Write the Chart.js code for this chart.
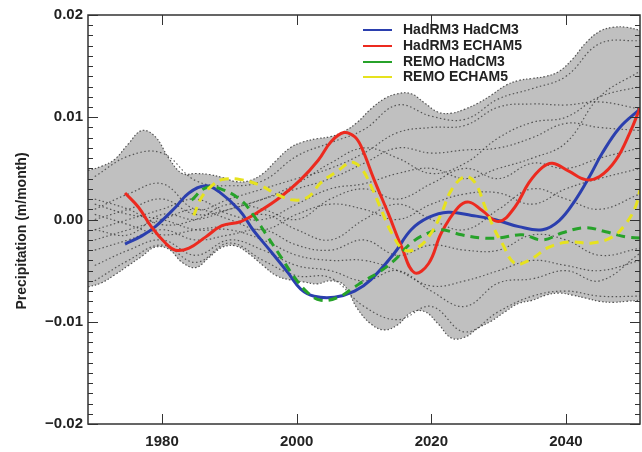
<!DOCTYPE html>
<html>
<head>
<meta charset="utf-8">
<script src="https://cdn.jsdelivr.net/npm/chart.js@4.4.1/dist/chart.umd.min.js"></script>
<style>
  html, body { margin: 0; padding: 0; background: #fff; }
  #wrap { width: 642px; height: 452px; }
</style>
</head>
<body>
<div id="wrap"><canvas id="chart" width="642" height="452"></canvas></div>
<script>
// values, precipitation change in m/month
const seriesNames = ['HadRM3 HadCM3', 'HadRM3 ECHAM5', 'REMO HadCM3', 'REMO ECHAM5'];
const seriesColors = ['#2b3fae', '#ec2a1f', '#27a22a', '#e6e21e'];

const xTicks = [1980, 2000, 2020, 2040];
const yTicks = [-0.02, -0.01, 0, 0.01, 0.02];

const blueYears = [1974.5, 1977, 1979, 1982, 1984, 1986.5, 1988.5, 1991.5, 1993.5, 1996, 1998.7, 2000.6, 2002.6, 2005.6, 2008.6, 2011, 2014.5, 2017, 2019.6, 2022.5, 2026, 2029.4, 2033, 2036.5, 2039, 2041.4, 2043.5, 2045.4, 2048, 2051];
const hadrm3Hadcm3 = [-0.0024, -0.0016, -0.0007, 0.0012, 0.0026, 0.0033, 0.0027, 0.0009, -0.001, -0.003, -0.0052, -0.0068, -0.0075, -0.0076, -0.007, -0.0059, -0.0033, -0.001, 0.0002, 0.0007, 0.0004, 0, -0.0007, -0.001, -0.0001, 0.0019, 0.0042, 0.0065, 0.009, 0.0108];

const redYears = [1974.5, 1976.5, 1978.4, 1980.5, 1982, 1984, 1986.5, 1988.9, 1991.7, 1994.7, 1997.6, 2000.6, 2003.2, 2005.1, 2007, 2008.6, 2009.6, 2011.5, 2013.6, 2015.6, 2017.5, 2019.6, 2021.5, 2024, 2025.6, 2027.5, 2030, 2032.4, 2034.5, 2036.5, 2038, 2040.5, 2042.9, 2045, 2047.4, 2049.5, 2051];
const hadrm3Echam5 = [0.0026, 0.0012, -0.0007, -0.0023, -0.003, -0.0028, -0.0017, -0.0006, -0.0002, 0.0009, 0.0022, 0.0039, 0.0058, 0.0076, 0.0085, 0.0081, 0.0071, 0.0039, 0.0006, -0.0027, -0.0052, -0.0043, -0.0013, 0.0012, 0.0017, 0.0009, -0.0002, 0.0012, 0.0036, 0.0051, 0.0055, 0.0047, 0.0039, 0.0042, 0.0058, 0.0085, 0.0109];

const greenYears = [1984.4, 1986.5, 1988.7, 1991.7, 1993.6, 1995.7, 1997.6, 1999.6, 2001.7, 2003.6, 2006.2, 2008.6, 2010, 2012.1, 2014.5, 2017, 2019.6, 2021.5, 2024.5, 2027.5, 2030, 2033.5, 2036.5, 2039.5, 2042.9, 2045.9, 2048.9, 2051];
const remoHadcm3 = [0.0019, 0.0031, 0.003, 0.0019, 0.0004, -0.0017, -0.0036, -0.0056, -0.0072, -0.0079, -0.0076, -0.0066, -0.006, -0.0052, -0.004, -0.0023, -0.0013, -0.001, -0.0015, -0.0018, -0.0018, -0.0015, -0.002, -0.0013, -0.0008, -0.0012, -0.0017, -0.0018];

const yellowYears = [1984.7, 1985.9, 1987.4, 1988.9, 1991.7, 1994.7, 1997.2, 1999.6, 2001.7, 2003.6, 2006.2, 2008.1, 2009.6, 2011.1, 2012.6, 2014.1, 2016, 2018.1, 2020, 2021.5, 2023, 2025, 2026.5, 2028, 2029.4, 2030.5, 2032.4, 2034.5, 2037.5, 2040.5, 2043.9, 2046.9, 2048.9, 2050.3, 2051];
const remoEcham5 = [0.0004, 0.0022, 0.0033, 0.0039, 0.0039, 0.0033, 0.0024, 0.0019, 0.0022, 0.0036, 0.0048, 0.0056, 0.005, 0.0032, 0.0009, -0.0013, -0.003, -0.0027, -0.0013, 0.0006, 0.0029, 0.0042, 0.0036, 0.0012, -0.001, -0.0023, -0.0043, -0.004, -0.0027, -0.0022, -0.0023, -0.0017, -0.0004, 0.0012, 0.0029];

// grey ensemble envelope
const envYears = [1969, 1971, 1973, 1975, 1977, 1979, 1981, 1983, 1985, 1987, 1989, 1991, 1993, 1995, 1997, 1999, 2001, 2003, 2005, 2007, 2009, 2011, 2013, 2015, 2017, 2019, 2021, 2023, 2025, 2027, 2029, 2031, 2033, 2035, 2037, 2039, 2041, 2043, 2045, 2047, 2049, 2051];
const envUpper = [0.0048, 0.0052, 0.0059, 0.0074, 0.0087, 0.0081, 0.006, 0.0045, 0.0045, 0.0044, 0.0041, 0.0037, 0.0038, 0.0045, 0.0058, 0.007, 0.0076, 0.0079, 0.0081, 0.0086, 0.0095, 0.0108, 0.0118, 0.0123, 0.0123, 0.0114, 0.0105, 0.0104, 0.0108, 0.0114, 0.0122, 0.0131, 0.0136, 0.0138, 0.014, 0.0145, 0.0157, 0.0173, 0.0184, 0.0188, 0.0188, 0.0185];
const envLower = [-0.0066, -0.0062, -0.0054, -0.0045, -0.0036, -0.0027, -0.0029, -0.0042, -0.0047, -0.0037, -0.0027, -0.0026, -0.0034, -0.0045, -0.0055, -0.0059, -0.0061, -0.0063, -0.006, -0.0064, -0.0087, -0.0102, -0.0108, -0.0103, -0.0091, -0.009, -0.0102, -0.0116, -0.0115, -0.0106, -0.0099, -0.009, -0.0082, -0.0079, -0.0074, -0.0072, -0.0074, -0.0077, -0.008, -0.0081, -0.008, -0.0079];

// dotted ensemble members
const memberYears = [1970, 1975, 1980, 1985, 1990, 1995, 2000, 2005, 2010, 2015, 2020, 2025, 2030, 2035, 2040, 2045, 2051];
const members = [
  [0.0042, 0.0062, 0.0065, 0.0038, 0.0033, 0.0038, 0.0062, 0.0075, 0.0088, 0.0112, 0.0101, 0.0098, 0.0118, 0.0128, 0.014, 0.0172, 0.0175],
  [0.001, 0.0025, 0.0035, 0.001, 0.002, 0.003, 0.004, 0.005, 0.0065, 0.0085, 0.009, 0.0092, 0.011, 0.0113, 0.0112, 0.0115, 0.0108],
  [0, 0.001, 0.002, 0.0005, 0.001, 0.002, 0.003, 0.004, 0.0055, 0.007, 0.0065, 0.0068, 0.007, 0.008, 0.0094, 0.009, 0.0087],
  [-0.001, 0, 0.001, 0.002, 0.0005, 0, 0.0015, 0.003, 0.0035, 0.0045, 0.005, 0.004, 0.005, 0.006, 0.0075, 0.012, 0.0145],
  [0.002, 0.001, -0.0005, 0, 0.0015, 0.001, 0, 0.002, 0.003, 0.002, 0.0035, 0.005, 0.004, 0.0055, 0.005, 0.006, 0.007],
  [-0.002, -0.001, 0, 0.001, 0, -0.001, 0.0005, 0.0015, 0.001, 0, 0.0015, 0.0025, 0.0026, 0.0015, 0.003, 0.004, 0.005],
  [0.0005, -0.0005, -0.0015, -0.001, -0.0005, 0.0005, -0.001, -0.002, 0, 0.0015, 0, -0.001, 0.001, 0.003, 0.002, 0.001, 0.0025],
  [-0.003, -0.002, -0.001, -0.002, -0.0015, -0.001, -0.0025, -0.003, -0.002, -0.0035, -0.0025, -0.003, -0.003, -0.0015, -0.002, -0.0035, -0.0028],
  [-0.0045, -0.003, -0.002, -0.0035, -0.002, -0.003, -0.0045, -0.005, -0.006, -0.005, -0.007, -0.0085, -0.0062, -0.0058, -0.005, -0.006, -0.0033],
  [-0.006, -0.004, -0.0025, -0.0042, -0.0023, -0.004, -0.0055, -0.0057, -0.0085, -0.0098, -0.0085, -0.011, -0.009, -0.0075, -0.007, -0.0075, -0.0075],
  [0.0015, 0.0005, 0, -0.001, -0.001, -0.002, -0.0035, -0.004, -0.004, -0.005, -0.0065, -0.006, -0.005, -0.004, -0.0045, -0.005, -0.004],
  [-0.001, -0.0015, 0.0005, 0, 0.001, 0.002, 0.0035, 0.0055, 0.007, 0.006, 0.0045, 0.0055, 0.008, 0.0095, 0.01, 0.012, 0.013]
];

const FONT = '"Liberation Sans", Arial, Helvetica, sans-serif';
const yMinorStep = 0.001;

function pts(xs, ys) {
  return xs.map((x, i) => ({ x: x, y: ys[i] }));
}

const datasets = [];
datasets.push({
  label: 'envUpper', data: pts(envYears, envUpper), fill: '+1',
  backgroundColor: '#c0c0c0', borderColor: 'rgba(60,60,60,0.85)', borderWidth: 1.2,
  borderDash: [1.5, 2], pointRadius: 0, tension: 0.4, order: 30
});
datasets.push({
  label: 'envLower', data: pts(envYears, envLower), fill: false,
  borderColor: 'rgba(60,60,60,0.85)', borderWidth: 1.2,
  borderDash: [1.5, 2], pointRadius: 0, tension: 0.4, order: 29
});
members.forEach((m, i) => {
  datasets.push({
    label: 'member' + i, data: pts(memberYears, m), fill: false,
    borderColor: 'rgba(50,50,50,0.75)', borderWidth: 1.2, borderDash: [1.5, 2.5],
    pointRadius: 0, tension: 0.4, order: 20
  });
});
const colored = [
  [blueYears, hadrm3Hadcm3, [], 4],
  [redYears, hadrm3Echam5, [], 3],
  [greenYears, remoHadcm3, [9, 6], 2],
  [yellowYears, remoEcham5, [9, 6], 1]
];
colored.forEach((c, i) => {
  datasets.push({
    label: seriesNames[i], data: pts(c[0], c[1]), fill: false,
    borderColor: seriesColors[i], borderWidth: 3, borderDash: c[2],
    pointRadius: 0, tension: 0.4, order: c[3]
  });
});

const decorations = {
  id: 'decorations',
  afterDatasetsDraw(chart) {
    const { ctx, chartArea: a, scales: { x, y } } = chart;
    ctx.save();
    // ticks on all four sides
    ctx.strokeStyle = '#333';
    ctx.lineWidth = 1;
    ctx.beginPath();
    for (let k = -20; k <= 20; k++) {
      const py = Math.round(y.getPixelForValue(k * yMinorStep)) + 0.5;
      const len = (k % 10 === 0) ? 10 : 5;
      ctx.moveTo(a.left, py); ctx.lineTo(a.left + len, py);
      ctx.moveTo(a.right, py); ctx.lineTo(a.right - len, py);
    }
    xTicks.forEach(v => {
      const px = Math.round(x.getPixelForValue(v)) + 0.5;
      ctx.moveTo(px, a.bottom); ctx.lineTo(px, a.bottom - 10);
      ctx.moveTo(px, a.top); ctx.lineTo(px, a.top + 10);
    });
    ctx.stroke();
    ctx.lineWidth = 1.5;
    ctx.strokeRect(a.left, a.top, a.right - a.left, a.bottom - a.top);

    // legend, inside the plot at the top
    ctx.font = 'bold 14px ' + FONT;
    ctx.textBaseline = 'middle';
    ctx.textAlign = 'left';
    const rows = [30, 46, 62, 77];
    seriesNames.forEach((name, i) => {
      ctx.strokeStyle = seriesColors[i];
      ctx.lineWidth = 2;
      ctx.beginPath();
      ctx.moveTo(363, rows[i]); ctx.lineTo(392, rows[i]);
      ctx.stroke();
      ctx.fillStyle = '#222';
      ctx.fillText(name, 403, rows[i]);
    });

    // y axis title
    ctx.translate(22, 231);
    ctx.rotate(-Math.PI / 2);
    ctx.textAlign = 'center';
    ctx.font = 'bold 14px ' + FONT;
    ctx.fillText('Precipitation (m/month)', 0, 0);
    ctx.restore();
  }
};

new Chart(document.getElementById('chart'), {
  type: 'line',
  data: { datasets: datasets },
  options: {
    responsive: false,
    animation: false,
    layout: { padding: { top: 15, right: 2, left: 0, bottom: 0 } },
    plugins: { legend: { display: false }, tooltip: { enabled: false } },
    scales: {
      x: {
        type: 'linear', min: 1969, max: 2051,
        grid: { display: false, drawTicks: false },
        border: { display: false },
        afterBuildTicks: s => { s.ticks = xTicks.map(v => ({ value: v })); },
        afterFit: s => { s.height = 28; },
        ticks: {
          color: '#222', font: { family: FONT, size: 15, weight: 'bold' }, padding: 9, maxRotation: 0,
          callback: v => String(v)
        }
      },
      y: {
        min: -0.02, max: 0.02,
        grid: { display: false, drawTicks: false },
        border: { display: false },
        afterBuildTicks: s => { s.ticks = yTicks.map(v => ({ value: v })); },
        afterFit: s => { s.width = 88; },
        ticks: {
          color: '#222', font: { family: FONT, size: 15, weight: 'bold' }, padding: 5,
          callback: v => (v < 0 ? '\u2212' : '') + Math.abs(v).toFixed(2)
        }
      }
    }
  },
  plugins: [decorations]
});
</script>
</body>
</html>
